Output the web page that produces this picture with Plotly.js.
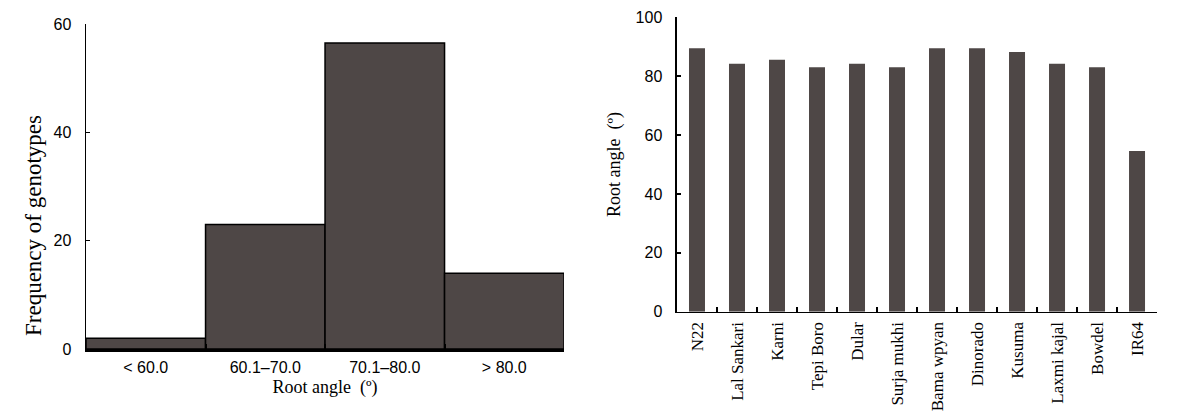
<!DOCTYPE html>
<html>
<head>
<meta charset="utf-8">
<script src="https://cdn.plot.ly/plotly-3.0.1.min.js"></script>
<style>html,body{margin:0;padding:0;background:#fff;}</style>
</head>
<body>
<div id="chart" style="width:1185px;height:419px;"></div>
<script>
// Left panel: histogram of root angle classes
const angleClasses = ["< 60.0", "60.1–70.0", "70.1–80.0", "> 80.0"];
const genotypeCounts = [2, 23, 56.5, 14];

// Right panel: root angle per genotype
const genotypes = ["N22", "Lal Sankari", "Karni", "Tepi Boro", "Dular", "Surja mukhi",
  "Bama wpyan", "Dinorado", "Kusuma", "Laxmi kajal", "Bowdel", "IR64"];
const rootAngles = [89.5, 84.2, 85.6, 83, 84.2, 83, 89.5, 89.5, 88.2, 84.2, 83, 54.6];

const barColor = "#4e4746";
const sans = "Liberation Sans, Arial, sans-serif";
const serif = "Liberation Serif, Times New Roman, serif";

const traces = [
  {
    type: "bar", x: angleClasses, y: genotypeCounts, xaxis: "x", yaxis: "y",
    width: 1, marker: {color: barColor, line: {color: "#000", width: 1.5}},
    hoverinfo: "x+y"
  },
  {
    type: "bar", x: genotypes, y: rootAngles, xaxis: "x2", yaxis: "y2",
    width: 0.4, marker: {color: barColor, line: {width: 0}},
    hoverinfo: "x+y"
  }
];

const layout = {
  width: 1185, height: 419, autosize: false,
  margin: {l: 0, r: 0, t: 0, b: 0},
  paper_bgcolor: "#fff", plot_bgcolor: "#fff",
  showlegend: false,
  xaxis: {
    domain: [0.0726, 0.476], type: "category", range: [-0.5, 3.5],
    showline: true, linecolor: "#000", linewidth: 3,
    ticks: "inside", tickson: "boundaries", ticklen: 5, tickwidth: 2, tickcolor: "#000",
    showgrid: false, zeroline: false, automargin: false,
    tickfont: {family: sans, size: 16, color: "#000"},
    ticklabelstandoff: 2,
    title: {text: "Root angle  (º)", font: {family: serif, size: 18, color: "#000"}, standoff: 6}
  },
  yaxis: {
    domain: [0.167, 0.9427], range: [0, 60], tickvals: [0, 20, 40, 60],
    showline: true, linecolor: "#000", linewidth: 1.5,
    ticks: "inside", ticklen: 4, tickwidth: 1.5, tickcolor: "#000",
    showgrid: false, zeroline: false, automargin: false,
    tickfont: {family: sans, size: 16, color: "#000"},
    ticklabelstandoff: 10
  },
  xaxis2: {
    domain: [0.5713, 0.9764], type: "category", range: [-0.5, 11.5], anchor: "y2",
    showline: true, linecolor: "#000", linewidth: 1.5,
    ticks: "inside", tickson: "boundaries", ticklen: 5, tickwidth: 1.5, tickcolor: "#000",
    showgrid: false, zeroline: false, automargin: false,
    tickangle: -90,
    tickfont: {family: serif, size: 17, color: "#000"},
    ticklabelstandoff: 2
  },
  yaxis2: {
    domain: [0.2561, 0.9587], range: [0, 100], tickvals: [0, 20, 40, 60, 80, 100], anchor: "x2",
    showline: true, linecolor: "#000", linewidth: 1.5,
    ticks: "inside", ticklen: 4, tickwidth: 1.5, tickcolor: "#000",
    showgrid: false, zeroline: false, automargin: false,
    tickfont: {family: sans, size: 16, color: "#000"},
    ticklabelstandoff: 10,
    title: {text: "Root angle  (º)", font: {family: serif, size: 18, color: "#000"}, standoff: 10}
  },
  annotations: [
    {
      text: "Frequency of genotypes", xref: "paper", yref: "paper",
      x: 33 / 1185, y: 1 - 226 / 419, xanchor: "center", yanchor: "middle",
      textangle: -90, showarrow: false,
      font: {family: serif, size: 23, color: "#000"}
    }
  ]
};

Plotly.newPlot("chart", traces, layout, {displayModeBar: false, staticPlot: true});
</script>
</body>
</html>
